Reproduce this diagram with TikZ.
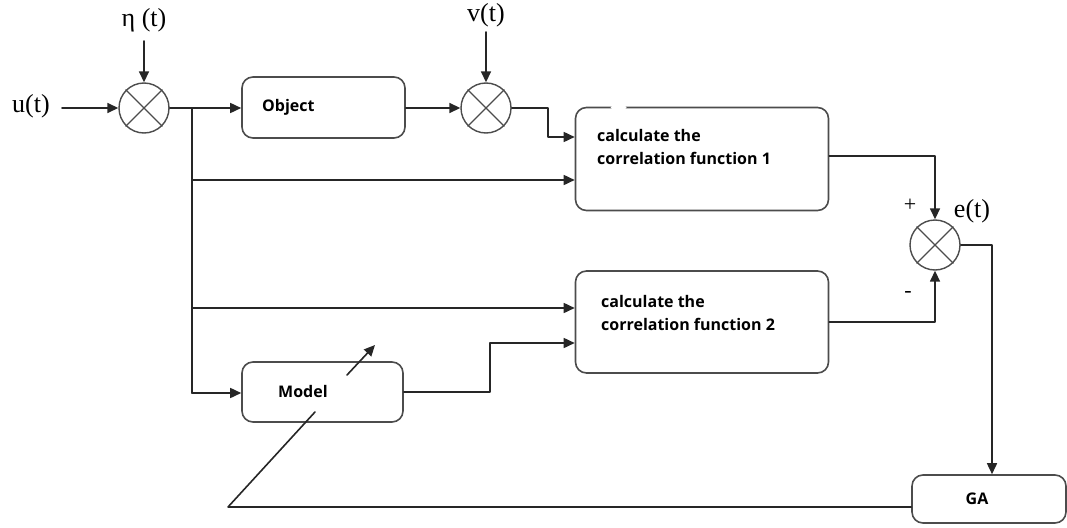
\documentclass[tikz,border=0pt]{standalone}
\usepackage{fontspec}
\setmainfont{Liberation Serif}
\newfontfamily\boxfont{Open Sans}
\usetikzlibrary{arrows.meta,calc}

\tikzset{
  blk/.style={draw=black!70,line width=1.6pt,rounded corners=11pt,fill=white,inner sep=0pt},
  sumnode/.style={draw=black!70,circle,line width=1.4pt,minimum size=50pt,inner sep=0pt},
  wire/.style={line width=1.6pt,draw=black!85},
  sig/.style={font=\fontsize{26}{28}\selectfont,inner sep=2pt},
  boxtxt/.style={font=\boxfont\bfseries\fontsize{16}{23}\selectfont,align=left,inner sep=0pt},
}

\begin{document}
\begin{tikzpicture}[line cap=round,line join=round,>={Triangle[length=11pt,width=10pt]},x=1pt,y=-1pt]
\useasboundingbox (0,0) rectangle (1067,527);

% summing points
\node[sumnode] (sumA) at (144,108) {};
\node[sumnode] (sumB) at (486,108) {};
\node[sumnode] (sumC) at (935,245) {};
\foreach \s in {sumA,sumB,sumC}{
  \draw[line width=1.2pt,black!70] (\s.north east) -- (\s.south west) (\s.north west) -- (\s.south east);
}

% blocks
\node[blk,minimum width=163pt,minimum height=61pt] (obj) at (323.5,107.5) {};
\node[boxtxt,anchor=west] (objtxt) at (262,107) {Object};

\node[blk,minimum width=253pt,minimum height=103pt] (cf1) at (702,159) {};
\node[boxtxt,anchor=north west] (cf1txt) at (597,129) {calculate the\\correlation function 1};
\draw[white,line width=3pt] (612,107.5) -- (625,107.5);

\node[blk,minimum width=253pt,minimum height=102pt] (cf2) at (702,322) {};
\node[boxtxt,anchor=north west] (cf2txt) at (601,295) {calculate the\\correlation function 2};

\node[blk,minimum width=161pt,minimum height=60pt] (model) at (322.5,392) {};
\node[boxtxt,anchor=west] (modeltxt) at (278,391) {Model};

\node[blk,minimum width=154pt,minimum height=48pt] (GA) at (989,499) {};
\node[boxtxt] (GAtxt) at (977,499) {GA};

% signals
\node[sig] (u) at (31,106) {u(t)};
\node[sig] (eta) at (144,20) {η (t)};
\node[sig] (v) at (486,15) {v(t)};
\node[sig] (e) at (972,211) {e(t)};
\node[sig,font=\fontsize{22}{24}\selectfont] (plus) at (910,205) {+};
\node[sig,font=\fontsize{22}{24}\selectfont] (minus) at (908,294) {-};

\coordinate (jA) at (192,108);
\coordinate (jB) at (192,180);
\coordinate (jC) at (192,308);
\coordinate (jD) at (192,393);
\coordinate (kink) at (228,507);

% connections
\draw[wire,->] ([xshift=10pt]u.east |- sumA) -- (sumA.west);
\draw[wire,->,shorten <=7pt] (eta.south) -- (sumA.north);
\draw[wire,->,shorten <=3pt] (v.south) -- (sumB.north);
\draw[wire,->] (sumA.east) -- (sumA.east -| obj.west);
\draw[wire] (jA) -- (jD);
\draw[wire,->] (jB) -- (jB -| cf1.west);
\draw[wire,->] (jC) -- (jC -| cf2.west);
\draw[wire,->] (jD) -- (jD -| model.west);
\draw[wire,->] (obj.east |- sumB.west) -- (sumB.west);
\draw[wire,->] (sumB.east) -- (548,108) -- (548,137) -- (cf1.west |- 548,137);
\draw[wire,->] (model.east) -- (490,392) -- (490,343) -- (cf2.west |- 490,343);
\draw[wire,->] (cf1.east |- 0,156) -| (sumC.north);
\draw[wire,->] (cf2.east) -| (sumC.south);
\draw[wire,->] (sumC.east) -| ([xshift=3pt]GA.north);
\draw[wire] (GA.west |- kink) -- (kink) -- (315,412);
\draw[wire,->] (347,375) -- (375,345);
\end{tikzpicture}
\end{document}
